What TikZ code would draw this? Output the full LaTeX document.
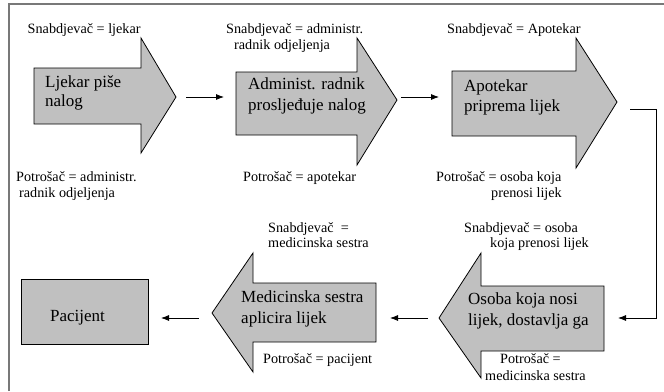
\documentclass[tikz,border=0pt]{standalone}
\usepackage{fontspec}
\setmainfont{Liberation Serif}
\newfontfamily\diagserif{Liberation Serif}
\usetikzlibrary{arrows.meta}
\definecolor{boxgray}{RGB}{192,192,192}
\definecolor{framegray}{RGB}{120,120,120}
\begin{document}
\begin{tikzpicture}[x=1pt,y=-1pt,
  procshape/.style={draw=black, fill=boxgray, line width=0.8pt, line join=miter},
  smalltxt/.style={font=\diagserif\fontsize{14.2}{16}\selectfont, anchor=base west, inner sep=0pt},
  bigtxt/.style={font=\diagserif\fontsize{17}{20}\selectfont, anchor=base west, inner sep=0pt},
  conn/.style={-{Latex[length=8pt,width=6pt]}, line width=0.8pt}]
\useasboundingbox (0,0) rectangle (664,391);
% frame
\draw[framegray, line width=1.5pt] (9,391) -- (9,4) -- (664,4);

% arrow shapes
\draw[procshape] (34,68) -- (141,68) -- (141,38) -- (176,97) -- (141,153) -- (141,124) -- (34,124) -- cycle;
\draw[procshape] (236,72) -- (357,72) -- (357,38) -- (397,100) -- (357,165) -- (357,135) -- (236,135) -- cycle;
\draw[procshape] (452,71) -- (576,71) -- (576,38) -- (617,102) -- (576,168) -- (576,136) -- (452,136) -- cycle;
\draw[procshape] (604,286) -- (481,286) -- (481,253) -- (439,318) -- (481,378) -- (481,351) -- (604,351) -- cycle;
\draw[procshape] (376,283) -- (253,283) -- (253,253) -- (212,313) -- (253,372) -- (253,342) -- (376,342) -- cycle;
\draw[procshape] (21,279) rectangle (148,344);

% process texts
\node[bigtxt] (t1a) at (45,87) {Ljekar piše};
\node[bigtxt] (t1b) at (45,106) {nalog};
\node[bigtxt] (t2a) at (248,89) {Administ. radnik};
\node[bigtxt] (t2b) at (248,110) {prosljeđuje nalog};
\node[bigtxt] (t3a) at (464,91) {Apotekar};
\node[bigtxt] (t3b) at (464,111) {priprema lijek};
\node[bigtxt] (t4a) at (468,304) {Osoba koja nosi};
\node[bigtxt] (t4b) at (468,325) {lijek, dostavlja ga};
\node[bigtxt] (t5a) at (241,302) {Medicinska sestra};
\node[bigtxt] (t5b) at (241,323) {aplicira lijek};
\node[bigtxt] (t6) at (50,321) {Pacijent};

% role labels
\node[smalltxt] (s1) at (27.5,33) {Snabdjevač = ljekar};
\node[smalltxt] (p1a) at (16,181) {Potrošač = administr.};
\node[smalltxt] (p1b) at (19,197) {radnik odjeljenja};
\node[smalltxt] (s2a) at (226,33) {Snabdjevač = administr.};
\node[smalltxt] (s2b) at (234,49) {radnik odjeljenja};
\node[smalltxt] (p2) at (243,181) {Potrošač = apotekar};
\node[smalltxt] (s3) at (447,33) {Snabdjevač = Apotekar};
\node[smalltxt] (p3a) at (436,181) {Potrošač = osoba koja};
\node[smalltxt] (p3b) at (491,197) {prenosi lijek};
\node[smalltxt] (s5a) at (268,232) {Snabdjevač \ =};
\node[smalltxt] (s5b) at (268,247) {medicinska sestra};
\node[smalltxt] (s4a) at (464,232) {Snabdjevač = osoba};
\node[smalltxt] (s4b) at (490,247) {koja prenosi lijek};
\node[smalltxt] (p4a) at (500,363) {Potrošač =};
\node[smalltxt] (p4b) at (485,380) {medicinska sestra};
\node[smalltxt] (p5) at (263,363) {Potrošač = pacijent};

% connector end points
\coordinate (c12s) at (186,97);
\coordinate (c12e) at (224,97);
\coordinate (c23s) at (401,97);
\coordinate (c23e) at (439,97);
\coordinate (c34s) at (630,109);
\coordinate (c34c) at (656,318);
\coordinate (c34e) at (618,318);
\coordinate (c45s) at (428,318);
\coordinate (c45e) at (390,318);
\coordinate (c56s) at (199,318);
\coordinate (c56e) at (161,318);

\draw[conn] (c12s) -- (c12e);
\draw[conn] (c23s) -- (c23e);
\draw[conn] (c34s) -| (c34c) -- (c34e);
\draw[conn] (c45s) -- (c45e);
\draw[conn] (c56s) -- (c56e);
\end{tikzpicture}
\end{document}
